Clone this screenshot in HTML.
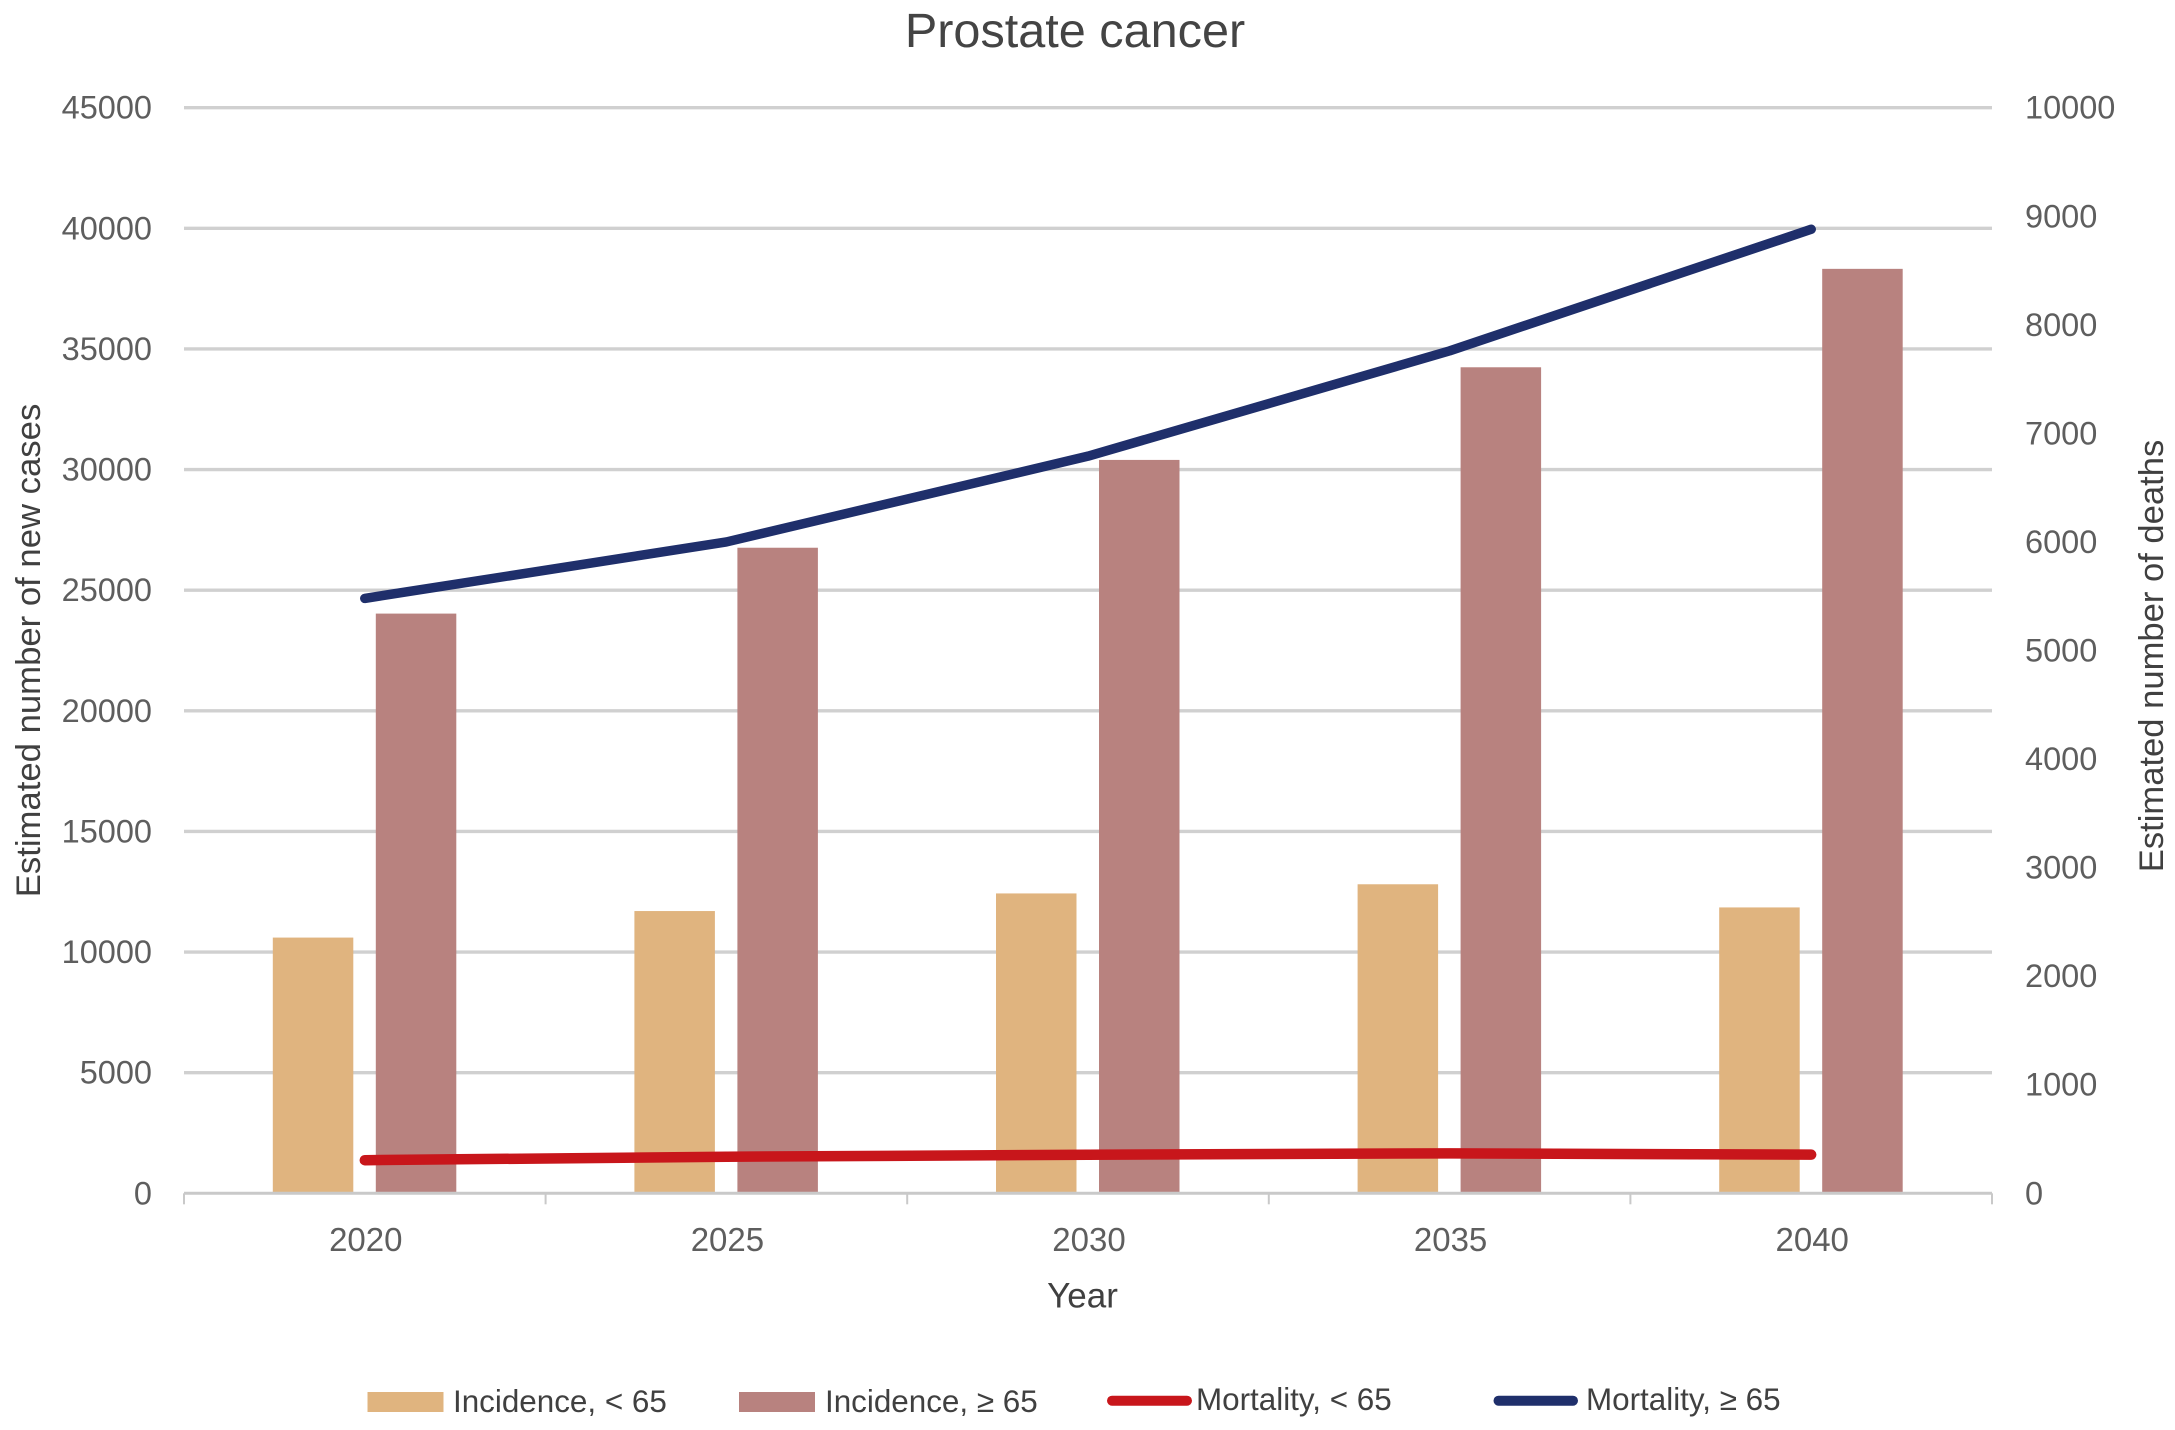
<!DOCTYPE html>
<html lang="en">
<head>
<meta charset="utf-8">
<title>Prostate cancer</title>
<style>
html,body{margin:0;padding:0;background:#fff;width:2175px;height:1430px;overflow:hidden}
svg{display:block;font-family:"Liberation Sans",Arial,sans-serif}
</style>
</head>
<body>
<svg id="chart" xmlns="http://www.w3.org/2000/svg" width="2175" height="1430" viewBox="0 0 2175 1430">
  <rect x="0" y="0" width="2175" height="1430" fill="#ffffff"/>
  <text x="1075" y="47" font-size="48.6" fill="#444444" text-anchor="middle">Prostate cancer</text>
  <g id="grid"></g>
  <g id="bars"></g>
  <g id="axis"></g>
  <g id="lines"></g>
  <g id="left-labels" font-size="32.5" fill="#5e5e5e" text-anchor="end"></g>
  <g id="right-labels" font-size="32.5" fill="#5e5e5e" text-anchor="start"></g>
  <g id="x-labels" font-size="33" fill="#5e5e5e" text-anchor="middle"></g>
  <text x="1082.5" y="1307.5" font-size="35" fill="#404040" text-anchor="middle">Year</text>
  <text transform="translate(40 650.5) rotate(-90)" font-size="34.7" fill="#404040" text-anchor="middle">Estimated number of new cases</text>
  <text transform="translate(2163 656) rotate(-90)" font-size="34.6" fill="#404040" text-anchor="middle">Estimated number of deaths</text>
  <g font-size="31.4" fill="#404040">
    <g>
      <rect x="367.5" y="1392" width="76" height="20" fill="#e0b47f"/>
      <text x="453" y="1412">Incidence, &lt; 65</text>
    </g>
    <g>
      <rect x="739" y="1392" width="76" height="20" fill="#b8827f"/>
      <text x="825" y="1412">Incidence, ≥ 65</text>
    </g>
    <g>
      <line x1="1112" y1="1400.7" x2="1187" y2="1400.7" stroke="#c8161b" stroke-width="10" stroke-linecap="round"/>
      <text x="1196" y="1410">Mortality, &lt; 65</text>
    </g>
    <g>
      <line x1="1498.5" y1="1400.7" x2="1573" y2="1400.7" stroke="#1f2f6b" stroke-width="10" stroke-linecap="round"/>
      <text x="1586" y="1410">Mortality, ≥ 65</text>
    </g>
  </g>
</svg>
<script>
const categories = ['2020', '2025', '2030', '2035', '2040'];
const incidenceUnder65 = [10600, 11700, 12430, 12810, 11850];
const incidenceOver65 = [24030, 26760, 30400, 34240, 38320];
const mortalityUnder65 = [305, 337, 355, 368, 356];
const mortalityOver65 = [5480, 6000, 6790, 7760, 8880];
const leftTicks = [0, 5000, 10000, 15000, 20000, 25000, 30000, 35000, 40000, 45000];
const rightTicks = [0, 1000, 2000, 3000, 4000, 5000, 6000, 7000, 8000, 9000, 10000];

const SVG_NS = 'http://www.w3.org/2000/svg';
const plot = { left: 184, right: 1992, top: 107.7, bottom: 1193.3 };
const leftMax = 45000;
const rightMax = 10000;
const barWidth = 80.5;
const barOffset = 11.5;

function yLeft(v) { return plot.bottom - (v / leftMax) * (plot.bottom - plot.top); }
function yRight(v) { return plot.bottom - (v / rightMax) * (plot.bottom - plot.top); }
function band() { return (plot.right - plot.left) / categories.length; }
function xCenter(i) { return plot.left + band() * (i + 0.5); }

function make(tag, attrs, parent) {
  const el = document.createElementNS(SVG_NS, tag);
  Object.keys(attrs).forEach(function (k) { el.setAttribute(k, attrs[k]); });
  parent.appendChild(el);
  return el;
}

const gridGroup = document.getElementById('grid');
const barsGroup = document.getElementById('bars');
const axisGroup = document.getElementById('axis');
const linesGroup = document.getElementById('lines');
const leftLabels = document.getElementById('left-labels');
const rightLabels = document.getElementById('right-labels');
const xLabels = document.getElementById('x-labels');

leftTicks.forEach(function (v) {
  if (v !== 0) {
    const g = make('line', { x1: plot.left, x2: plot.right, y1: yLeft(v), y2: yLeft(v), stroke: '#d0d0d0', 'stroke-width': 3.4 }, gridGroup);
    
    
  }
  const t = make('text', { x: 152, y: yLeft(v) + 11 }, leftLabels);
  t.textContent = String(v);
  
  
});

rightTicks.forEach(function (v) {
  const t = make('text', { x: 2025, y: yRight(v) + 11 }, rightLabels);
  t.textContent = String(v);
  
  
});

categories.forEach(function (c, i) {
  const cx = xCenter(i);
  const a = make('rect', { x: cx - barOffset - barWidth, y: yLeft(incidenceUnder65[i]), width: barWidth, height: yLeft(0) - yLeft(incidenceUnder65[i]), fill: '#e0b47f' }, barsGroup);
  
  
  const b = make('rect', { x: cx + barOffset - 0.5, y: yLeft(incidenceOver65[i]), width: barWidth, height: yLeft(0) - yLeft(incidenceOver65[i]), fill: '#b8827f' }, barsGroup);
  
  
  const t = make('text', { x: cx + 1, y: 1251 }, xLabels);
  t.textContent = c;
  
  
});

const baseAxis = make('line', { x1: plot.left, x2: plot.right, y1: plot.bottom, y2: plot.bottom, stroke: '#c9c9c9', 'stroke-width': 3 }, axisGroup);


for (let i = 0; i <= categories.length; i++) {
  const x = plot.left + band() * i;
  const tick = make('line', { x1: x, x2: x, y1: plot.bottom, y2: plot.bottom + 11, stroke: '#c9c9c9', 'stroke-width': 2 }, axisGroup);
  
  
}

function pointsFor(values) {
  return values.map(function (v, i) { return xCenter(i) + ',' + yRight(v); }).join(' ');
}
const lineOver = make('polyline', { points: pointsFor(mortalityOver65), fill: 'none', stroke: '#1f2f6b', 'stroke-width': 9.5, 'stroke-linecap': 'round', 'stroke-linejoin': 'round' }, linesGroup);


const lineUnder = make('polyline', { points: pointsFor(mortalityUnder65), fill: 'none', stroke: '#c8161b', 'stroke-width': 10.5, 'stroke-linecap': 'round', 'stroke-linejoin': 'round' }, linesGroup);


</script>
</body>
</html>
